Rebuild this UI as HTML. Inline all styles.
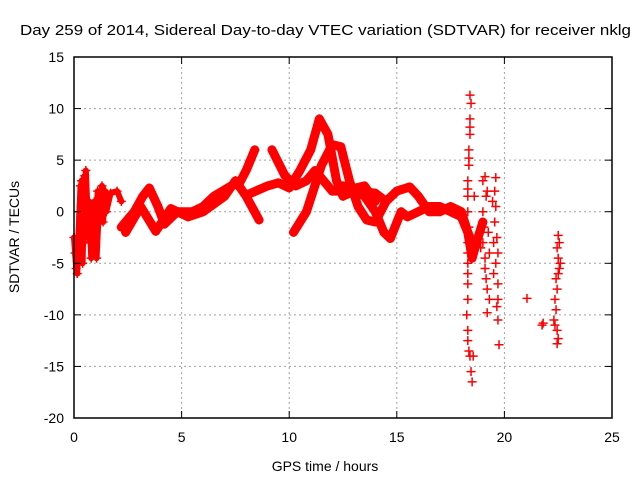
<!DOCTYPE html>
<html><head><meta charset="utf-8"><style>
body{margin:0;background:#fff;}
svg{display:block;font-family:"Liberation Sans",Arial,sans-serif;}
</style></head><body>
<svg id="chart" width="640" height="480">
<text x="20" y="35" font-size="14.5" textLength="611" lengthAdjust="spacingAndGlyphs">Day 259 of 2014, Sidereal Day-to-day VTEC variation (SDTVAR) for receiver nklg</text>
<g id="grid"></g><g id="tracks"></g><g id="marks"></g><g id="axes"></g>
<text x="325" y="471" font-size="14" text-anchor="middle">GPS time / hours</text>
<text transform="translate(19,237) rotate(-90)" font-size="14" text-anchor="middle">SDTVAR / TECUs</text>
</svg>
<script>
const xTicks=[0,5,10,15,20,25];
const yTicks=[15,10,5,0,-5,-10,-15,-20];
// continuous tracks: [hour, TECU]
const track1=[[0,-2.5],[0.1,-5.5],[0.2,-3],[0.3,2.5],[0.35,-1],[0.4,-5],[0.45,0],[0.5,3.5],[0.55,1],[0.6,-2],[0.7,1],[0.8,-4.5],[0.85,-2],[0.9,0],[1.0,-3],[1.1,2],[1.2,-1],[1.3,2.5],[1.4,0.5],[1.5,0],[1.7,1.8],[2.0,2],[2.2,1]];
const track1b=[[0.05,-4],[0.15,-6],[0.25,0],[0.35,3],[0.45,-3],[0.55,4],[0.65,-1],[0.75,-3],[0.95,1],[1.05,-4.5],[1.15,0],[1.25,1.5],[1.35,-1],[1.45,2]];
const track2=[[2.2,-1.5],[2.8,0],[3.2,1.5],[3.5,2.3],[3.9,0.5],[4.2,-1.2],[4.8,0],[5.5,0],[6.0,0.5],[6.5,1.5],[7.3,2.5],[7.7,2.8],[8.0,4],[8.4,6]];
const track3=[[2.4,-2],[3.1,0.5],[3.8,-1.9],[4.5,0.3],[5.3,-0.5],[6.0,0],[7.0,1.5],[7.5,3],[8.0,1.5],[8.6,-0.8]];
const track4=[[8.0,1.6],[9.0,2.5],[9.5,2.8],[10.0,2.3],[10.5,4],[11.0,6],[11.4,9],[11.8,7.5],[12.2,3],[12.5,1.5],[13.0,2],[14.0,1.8],[14.5,1]];
const track5=[[9.2,6],[9.8,3.5],[10.3,2.5],[10.8,3],[11.2,4],[12.0,2],[12.5,2],[13.5,2.5],[14.0,1]];
const track6=[[10.2,-2],[10.8,0],[11.5,4.5],[12.0,6.5],[12.4,6.3],[12.8,3],[13.2,0.5],[13.6,-0.8],[14.0,-1],[14.5,1],[15.0,2],[15.6,2.4],[16.0,1.5],[16.5,0],[17.0,0],[17.5,0.5],[18.0,0],[18.3,-2],[18.5,-4.5],[18.7,-3],[19.0,-1]];
const track7=[[12.5,2.5],[13.5,1.5],[14.0,0],[14.4,-2],[14.7,-2.6],[15.2,0],[15.5,-0.5],[16.0,0],[16.5,0.5],[17.0,0.5],[17.5,0],[18.0,-0.5],[18.4,-2.5]];
const tracks=[track1,track1b,track2,track3,track4,track5,track6,track7];
// sparse scatter points
const spikeA=[[18.4,11.3],[18.45,10.5],[18.4,9],[18.4,8.2],[18.4,7.5],[18.35,6],[18.35,5.2],[18.35,4.5],[18.3,3],[18.3,2.2],[18.3,1.5],[18.3,0],[18.35,-1.5],[18.3,-3],[18.3,-4],[18.3,-5],[18.3,-6],[18.3,-7],[18.3,-8.5],[18.25,-10],[18.3,-11.5],[18.3,-12.5],[18.35,-13.5],[18.4,-14],[18.45,-15.5],[18.5,-16.5],[18.55,-14],[18.6,1.5]];
const spikeB=[[19.1,3.4],[19.0,3],[19.15,1.5],[19.0,0],[19.05,-1.5],[19.0,-3],[19.1,-4.5],[19.1,-5.5],[19.15,-6.5],[19.2,-7.5],[19.3,-8.5],[19.2,-9.8],[18.9,-3.5],[19.2,2],[19.25,-2],[19.3,-4]];
const spikeC=[[19.6,3.3],[19.55,2],[19.6,0.5],[19.55,-1],[19.65,-2.5],[19.7,-4],[19.6,-5],[19.7,-7],[19.7,-8.5],[19.65,-9.2],[19.7,-10.5],[19.75,-12.9],[19.5,-3],[19.45,1],[19.5,-6]];
const spikeD=[[22.5,-2.3],[22.45,-3.5],[22.5,-4.5],[22.55,-5.5],[22.4,-6.5],[22.45,-7.5],[22.35,-8.5],[22.4,-9.5],[22.3,-10.5],[22.35,-11],[22.45,-11.5],[22.5,-12.3],[22.45,-12.8],[22.6,-5],[22.55,-3],[22.5,-6]];
const isolated=[[21.05,-8.4],[21.75,-11],[21.8,-10.8]];
const spikes=[spikeA,spikeB,spikeC,spikeD,isolated];

const X0=74,X1=612,Y0=57,Y1=418;
const sx=h=>X0+(h-0)/25*(X1-X0);
const sy=v=>Y0+(15-v)/35*(Y1-Y0);
const NS="http://www.w3.org/2000/svg";
function mk(t,a,p){const e=document.createElementNS(NS,t);for(const k in a)e.setAttribute(k,a[k]);p.appendChild(e);return e;}
const grid=document.getElementById('grid'),axes=document.getElementById('axes'),tg=document.getElementById('tracks'),mg=document.getElementById('marks');
xTicks.forEach(t=>{const x=sx(t);
 if(t>0&&t<25){const g=mk('line',{x1:x,y1:Y0,x2:x,y2:Y1,stroke:'#a0a0a0','stroke-dasharray':'2,3'},grid);
 
 }
 mk('line',{x1:x,y1:Y1,x2:x,y2:Y1-7,stroke:'#000'},axes);mk('line',{x1:x,y1:Y0,x2:x,y2:Y0+7,stroke:'#000'},axes);
 const l=mk('text',{x:x,y:Y1+24,'font-size':14,'text-anchor':'middle'},axes);l.textContent=t;
 
 });
yTicks.forEach(t=>{const y=sy(t);
 if(t<15&&t>-20){const g=mk('line',{x1:X0,y1:y,x2:X1,y2:y,stroke:'#a0a0a0','stroke-dasharray':'2,3'},grid);
 
 }
 mk('line',{x1:X0,y1:y,x2:X0+7,y2:y,stroke:'#000'},axes);mk('line',{x1:X1,y1:y,x2:X1-7,y2:y,stroke:'#000'},axes);
 const l=mk('text',{x:X0-10,y:y+5,'font-size':14,'text-anchor':'end'},axes);l.textContent=t;
 
 });
const fr=mk('rect',{x:X0,y:Y0,width:X1-X0,height:Y1-Y0,fill:'none',stroke:'#000','stroke-width':1.5},axes);


function plus(h,v,p){const x=sx(h),y=sy(v);
 const e=mk('path',{d:`M${x-4.5},${y}H${x+4.5}M${x},${y-4.5}V${y+4.5}`,stroke:'#f00','stroke-width':1.5},p);
 
 }
tracks.forEach((tr,i)=>{
 const pl=mk('polyline',{points:tr.map(p=>sx(p[0])+','+sy(p[1])).join(' '),fill:'none',stroke:'#f00','stroke-width':i<2?6:9,'stroke-linejoin':'round','stroke-linecap':'round'},tg);
 
 
 tr.forEach(p=>plus(p[0],p[1],mg));});
spikes.forEach(s=>s.forEach(p=>plus(p[0],p[1],mg)));
</script>
</body></html>
